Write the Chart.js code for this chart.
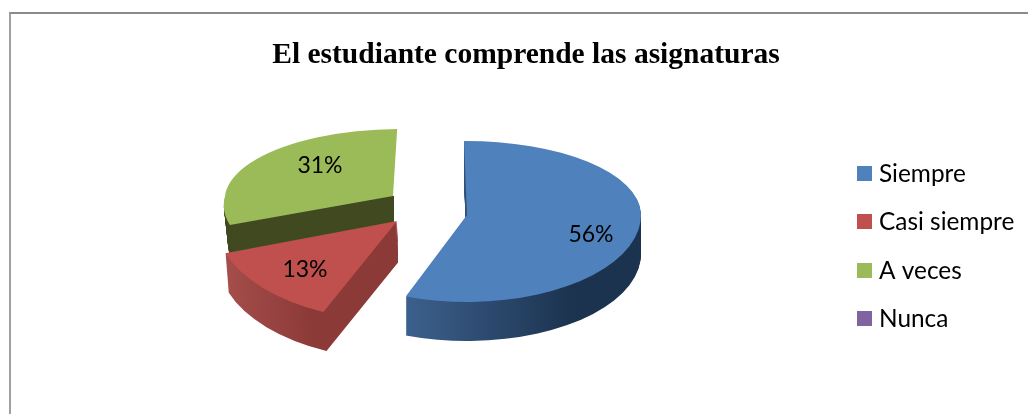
<!DOCTYPE html>
<html>
<head>
<meta charset="utf-8">
<style>
  body { margin: 0; background: #fff; }
  #wrap { position: relative; width: 1028px; height: 414px; overflow: hidden; }
  #frame { position: absolute; left: 9px; top: 12px; right: -4px; bottom: -4px; border-left: 2px solid #a0a0a0; border-top: 2px solid #8a8a8a; }
  canvas { position: absolute; left: 0; top: 0; }
</style>
</head>
<body>
<div id="wrap">
  <canvas id="pie" width="1028" height="414"></canvas>
  <div id="frame"></div>
</div>
<script src="https://cdn.jsdelivr.net/npm/chart.js@4"></script>
<script>
const categories = ['Siempre', 'Casi siempre', 'A veces', 'Nunca'];
const percents = [56, 13, 31, 0];
const colors = ['#4f81bd', '#c0504d', '#9bbb59', '#8064a2'];
const chartTitle = 'El estudiante comprende las asignaturas';

// fake 3d look: where each exploded slice sits and how it is squashed
const pieCentre = { x: 430, y: 208 };
const explodeX = [37, -33, -37, 0];
const explodeY = [7, 13, -12, 0];
const scaleX = [1, 1.044, 0.965, 1];
const skewY = [0, 0.037, 0, 0];
const farSquash = [0.425, 0.45, 0.385, 0.45];
const nearSquash = [0.5, 0.5725, 0.434, 0.5];
const farShear = [0, 0, -0.106, 0];
const nearShear = [0, -0.104, -0.28, 0];
const wallDrift = [0, 0.08, 0.11, 0];
const depth = 39;
const drawOrder = [2, 0, 1];
const labelShift = [[124, 20], [-92, 49], [-73, -30]];

function wallFill(ctx, i, arc) {
  if (i === 0) {
    const g = ctx.createLinearGradient(arc.x - 60, 0, arc.x + 174, 0);
    g.addColorStop(0, '#3c608c');
    g.addColorStop(0.7, '#1c3350');
    return g;
  }
  if (i === 1) {
    const g = ctx.createLinearGradient(arc.x - 172, 0, arc.x - 74, 0);
    g.addColorStop(0, '#a8504e');
    g.addColorStop(1, '#8c3a38');
    return g;
  }
  return '#414a21';
}

function drawFace(chart, arc, i, drop, fill) {
  const ctx = chart.ctx;
  const ax = pieCentre.x + explodeX[i] + wallDrift[i] * drop;
  const ay = pieCentre.y + explodeY[i] + drop;
  const saved = arc.options;
  arc.options = Object.assign({}, saved, { backgroundColor: fill });
  [farSquash[i], nearSquash[i]].forEach((k, half) => {
    const sh = half ? nearShear[i] : farShear[i];
    ctx.save();
    ctx.beginPath();
    ctx.rect(0, half ? ay : 0, chart.width, half ? chart.height - ay : ay);
    ctx.clip();
    ctx.translate(ax, ay);
    ctx.transform(scaleX[i], half ? skewY[i] : 0, sh * k, k, 0, 0);
    ctx.translate(-arc.x, -arc.y);
    arc.draw(ctx);
    ctx.restore();
  });
  arc.options = saved;
}

const pie3d = {
  id: 'pie3d',
  beforeDatasetsDraw(chart) {
    const ctx = chart.ctx;
    const arcs = chart.getDatasetMeta(0).data;
    drawOrder.forEach(i => {
      const wall = wallFill(ctx, i, arcs[i]);
      ctx.save();
      if (i > 0) {
        // left slices: wall stops at the apex, no far rim and no spill to the right
        ctx.beginPath();
        ctx.rect(0, pieCentre.y + explodeY[i], pieCentre.x + explodeX[i] + 1, chart.height);
        ctx.clip();
      }
      for (let d = depth; d > 0; d--) drawFace(chart, arcs[i], i, d, wall);
      ctx.restore();
      drawFace(chart, arcs[i], i, 0, colors[i]);
    });
    return false;
  },
  afterDraw(chart) {
    const ctx = chart.ctx;
    ctx.save();
    ctx.fillStyle = '#000';
    ctx.textBaseline = 'middle';
    ctx.font = '23px Lato';
    ctx.textAlign = 'center';
    labelShift.forEach((s, i) => {
      ctx.fillText(percents[i] + '%', pieCentre.x + explodeX[i] + s[0], pieCentre.y + explodeY[i] + s[1]);
    });
    // legend
    ctx.textAlign = 'left';
    ctx.font = '24.4px Lato';
    categories.forEach((name, i) => {
      const y = 174 + i * 48.4;
      ctx.fillStyle = colors[i];
      ctx.fillRect(857, Math.round(y) - 8, 15, 15);
      ctx.fillStyle = '#000';
      ctx.fillText(name, 879, y);
    });
    ctx.restore();
  }
};

new Chart(document.getElementById('pie').getContext('2d'), {
  type: 'pie',
  data: {
    labels: categories,
    datasets: [{
      data: percents,
      backgroundColor: colors,
      borderWidth: 0,
      radius: 174
    }]
  },
  options: {
    responsive: false,
    animation: false,
    events: [],
    rotation: -1,
    layout: { padding: { left: 24 } },
    plugins: {
      legend: { display: false },
      tooltip: { enabled: false },
      title: {
        display: true,
        text: chartTitle,
        color: '#000',
        font: { family: 'Liberation Serif', size: 29.5, weight: 'bold' },
        padding: { top: 38, bottom: 0 }
      }
    }
  },
  plugins: [pie3d]
});
</script>
</body>
</html>
